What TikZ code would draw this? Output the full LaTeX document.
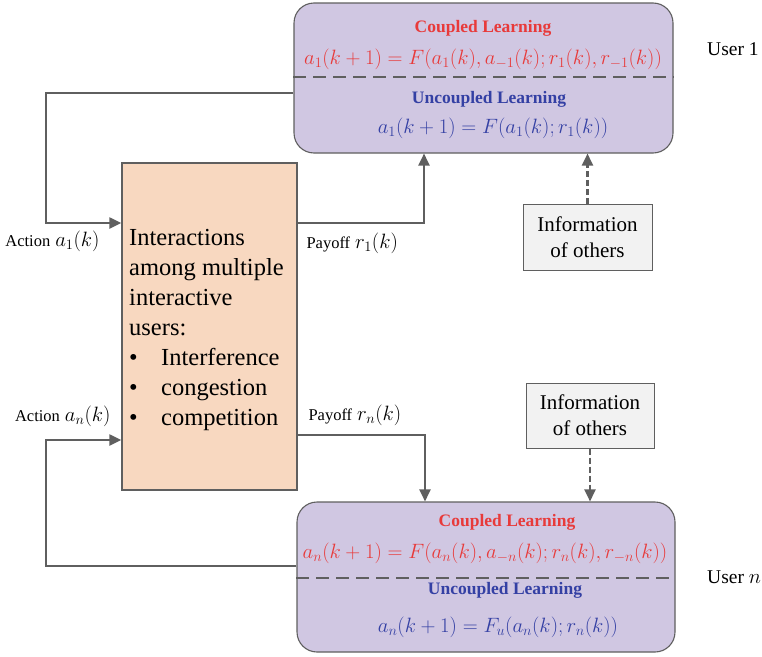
\documentclass[tikz,border=0pt]{standalone}
\usepackage{fontspec}
\setmainfont{Liberation Serif}
\usetikzlibrary{arrows.meta}

\definecolor{lilac}{RGB}{208,199,226}
\definecolor{peach}{RGB}{248,216,192}
\definecolor{infogray}{RGB}{242,242,242}
\definecolor{edgegray}{RGB}{95,95,95}
\definecolor{learnred}{RGB}{232,58,58}
\definecolor{learnblue}{RGB}{52,64,164}

\begin{document}
\begin{tikzpicture}[x=1pt, y=-1pt,
    userbox/.style={draw=edgegray, line width=1.1pt, fill=lilac, rounded corners=20pt, inner sep=0pt},
    interbox/.style={draw=edgegray, line width=1.3pt, fill=peach, inner sep=0pt},
    infobox/.style={draw=edgegray, line width=1pt, fill=infogray, inner sep=0pt, align=center,
        font=\fontsize{21}{26}\selectfont},
    flow/.style={draw=edgegray, line width=2.2pt, -{Triangle[length=12pt,width=11pt]}},
    infoflow/.style={flow, dashed, dash pattern=on 6pt off 3pt},
    sepline/.style={draw=edgegray, line width=1.4pt, dash pattern=on 13pt off 7pt},
    title/.style={font=\fontsize{17.5}{20}\selectfont\bfseries},
    eqn/.style={font=\fontsize{20.6}{24}\selectfont},
    sig/.style={font=\fontsize{20}{24}\selectfont},
    user/.style={anchor=west, inner sep=0pt, font=\fontsize{19.5}{24}\selectfont}]
    \useasboundingbox (0,0) rectangle (762,656);

    % Learning boxes of user 1 and user n
    \node[userbox, minimum width=379pt, minimum height=150pt] (user1) at (483.5,78) {};
    \node[userbox, minimum width=378pt, minimum height=150pt] (usern) at (486,577) {};
    \draw[sepline] (user1.west |- 0,77) -- (user1.east |- 0,77);
    \draw[sepline] (usern.west |- 0,578) -- (usern.east |- 0,578);

    % User 1: coupled / uncoupled
    \node[title, learnred] (cpl1) at (483,28) {Coupled Learning};
    \node[eqn, learnred] (eqc1) at (483,59)
        {$a_1(k+1)=F\big(a_1(k),a_{-1}(k);r_1(k),r_{-1}(k)\big)$};
    \node[title, learnblue] (ucpl1) at (489,99) {Uncoupled Learning};
    \node[eqn, learnblue] (equ1) at (493,128) {$a_1(k+1)=F\big(a_1(k);r_1(k)\big)$};

    % User n: coupled / uncoupled
    \node[title, learnred] (cpln) at (507,522) {Coupled Learning};
    \node[eqn, learnred] (eqcn) at (485,553)
        {$a_n(k+1)=F\big(a_n(k),a_{-n}(k);r_n(k),r_{-n}(k)\big)$};
    \node[title, learnblue] (ucpln) at (505,590) {Uncoupled Learning};
    \node[eqn, learnblue] (equn) at (498,627) {$a_n(k+1)=F_u\big(a_n(k);r_n(k)\big)$};

    \node[user] (lab1) at (707,49) {User 1};
    \node[user] (labn) at (707,577) {User $n$};

    % Interaction box
    \node[interbox, minimum width=175pt, minimum height=327pt] (inter) at (209.5,326.5) {};
    \node[anchor=north west, inner sep=0pt, align=left, font=\fontsize{24.5}{30}\selectfont] (intertext) at (129,229)
        {Interactions\\among multiple\\interactive\\users:\\
         \makebox[32pt][l]{\textbullet}Interference\\
         \makebox[32pt][l]{\textbullet}congestion\\
         \makebox[32pt][l]{\textbullet}competition};

    % Information of others
    \node[infobox, minimum width=129pt, minimum height=66pt] (info1) at (587.5,237) {Information\\of others};
    \node[infobox, minimum width=128pt, minimum height=65pt] (infon) at (590,415.5) {Information\\of others};

    % Actions and payoffs
    \node[sig, anchor=east] (act1) at (103,241) {{\fontsize{16.5}{20}\selectfont Action} $a_1(k)$};
    \node[sig, anchor=east] (actn) at (114,416) {{\fontsize{16.5}{20}\selectfont Action} $a_n(k)$};
    \node[sig, anchor=west] (pay1) at (303,243) {{\fontsize{16.5}{20}\selectfont Payoff} $r_1(k)$};
    \node[sig, anchor=west] (payn) at (305,415) {{\fontsize{16.5}{20}\selectfont Payoff} $r_n(k)$};

    \draw[flow] (user1.west |- 0,93) -- (46,93) -- (46,223) -- (inter.west |- 0,223);
    \draw[flow] (inter.east |- 0,223) -| (424,0 |- user1.south);
    \draw[infoflow] (info1.north) -- (info1.north |- user1.south);

    \draw[flow] (usern.west |- 0,566) -- (46,566) -- (46,440) -- (inter.west |- 0,440);
    \draw[flow] (inter.east |- 0,435) -| (425,0 |- usern.north);
    \draw[infoflow] (infon.south) -- (infon.south |- usern.north);
\end{tikzpicture}
\end{document}
